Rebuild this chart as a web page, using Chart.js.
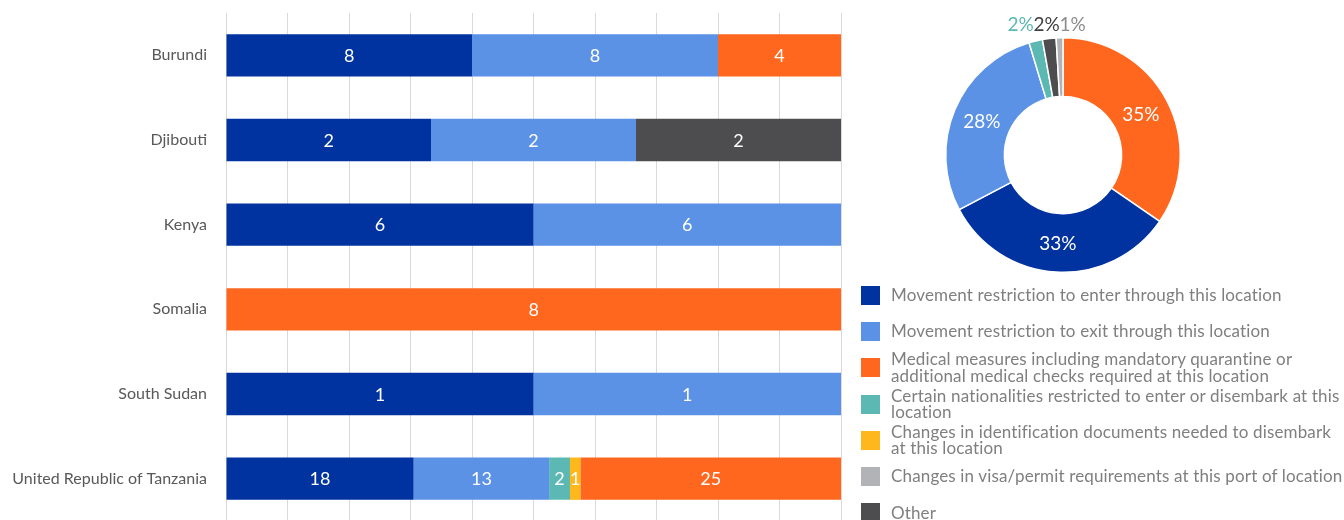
<!DOCTYPE html>
<html>
<head>
<meta charset="utf-8">
<script src="https://cdn.jsdelivr.net/npm/chart.js@4.4.1/dist/chart.umd.min.js"></script>
<style>
  html, body { margin: 0; padding: 0; width: 1344px; height: 520px; overflow: hidden; background: #fff; }
  #barBox { position: absolute; left: 0; top: 0; width: 850px; height: 530px; }
  #pieBox { position: absolute; left: 933px; top: 5px; width: 260px; height: 300px; }
  #legend { position: absolute; left: 861px; top: 277px; width: 483px; font-family: Lato, sans-serif; font-size: 17px; letter-spacing: 0.15px; color: #7f7f7f; }
  .item { display: flex; align-items: center; height: 36.3px; }
  .sw { width: 19px; height: 19px; flex: none; margin-right: 11px; }
  .tx { line-height: 16.5px; width: 455px; }
</style>
</head>
<body>
<div id="barBox"><canvas id="bars"></canvas></div>
<div id="pieBox"><canvas id="donut"></canvas></div>
<div id="legend"></div>
<script>
// Countries (rows of the stacked bar chart)
const countries = ['Burundi', 'Djibouti', 'Kenya', 'Somalia', 'South Sudan', 'United Republic of Tanzania'];

// Measure types, in legend order
const measures = [
  'Movement restriction to enter through this location',
  'Movement restriction to exit through this location',
  'Medical measures including mandatory quarantine or additional medical checks required at this location',
  'Certain nationalities restricted to enter or disembark at this location',
  'Changes in identification documents needed to disembark at this location',
  'Changes in visa/permit requirements at this port of location',
  'Other'
];
const measureColors = ['#0033A0', '#5B92E5', '#FF671F', '#5CB8B2', '#FFB81C', '#B1B3B6', '#4D4D4F'];
const labelColors   = ['#0033A0', '#5B92E5', '#FF671F', '#5CB8B2', '#FFB81C', '#8C8C8C', '#404040'];

// Number of points of entry reporting each measure, per country
const enterCounts       = [8, 2, 6, 0, 1, 18];
const exitCounts        = [8, 2, 6, 0, 1, 13];
const medicalCounts     = [4, 0, 0, 8, 0, 25];
const nationalityCounts = [0, 0, 0, 0, 0, 2];
const idDocCounts       = [0, 0, 0, 0, 0, 1];
const visaCounts        = [0, 0, 0, 0, 0, 0];
const otherCounts       = [0, 2, 0, 0, 0, 0];
const countSeries = [enterCounts, exitCounts, medicalCounts, nationalityCounts, idDocCounts, visaCounts, otherCounts];

// Order in which the segments are stacked from left to right
const stackOrder = [0, 1, 3, 4, 5, 2, 6];

// Overall share of measures (donut), clockwise from the top
const donutMeasures = [2, 0, 1, 3, 6, 5]; // indexes into measures
const donutValues   = [37, 35, 30, 2, 2, 1];

// Row totals, used to turn counts into 100% stacked bars
const rowTotals = countries.map((_, j) => countSeries.reduce((s, arr) => s + arr[j], 0));

// Legend
const legendEl = document.getElementById('legend');
measures.forEach((m, i) => {
  const it = document.createElement('div');
  it.className = 'item';
  it.innerHTML = '<div class="sw" style="background:' + measureColors[i] + '"></div><div class="tx"></div>';
  it.querySelector('.tx').textContent = m;
  legendEl.appendChild(it);
});

// Writes each segment's count in the middle of the segment
const barValueLabels = {
  id: 'barValueLabels',
  afterDatasetsDraw(chart) {
    const ctx = chart.ctx;
    ctx.save();
    ctx.font = '18px Lato';
    ctx.fillStyle = '#ffffff';
    ctx.textAlign = 'center';
    ctx.textBaseline = 'middle';
    chart.data.datasets.forEach((ds, i) => {
      const meta = chart.getDatasetMeta(i);
      meta.data.forEach((bar, j) => {
        const n = ds.counts[j];
        if (!n) return;
        const p = bar.getProps(['x', 'y', 'base'], true);
        ctx.fillText(String(n), (p.x + p.base) / 2, p.y + 1);
      });
    });
    ctx.restore();
  }
};

new Chart(document.getElementById('bars'), {
  type: 'bar',
  data: {
    labels: countries,
    datasets: stackOrder.map(i => ({
      label: measures[i],
      counts: countSeries[i],
      data: countSeries[i].map((v, j) => rowTotals[j] ? v / rowTotals[j] * 100 : 0),
      backgroundColor: measureColors[i],
      borderWidth: 0,
      barPercentage: 0.5,
      categoryPercentage: 1
    }))
  },
  options: {
    indexAxis: 'y',
    responsive: true,
    maintainAspectRatio: false,
    animation: false,
    layout: { padding: { left: 0, right: 9, top: 13, bottom: 9 } },
    plugins: { legend: { display: false }, tooltip: { enabled: false } },
    scales: {
      x: {
        stacked: true,
        min: 0,
        max: 100,
        ticks: { display: false, stepSize: 10 },
        grid: { color: '#d9d9d9', lineWidth: 1, drawTicks: false },
        border: { display: false }
      },
      y: {
        stacked: true,
        grid: { display: false, drawTicks: false },
        border: { display: false },
        ticks: { color: '#595959', font: { family: 'Lato', size: 16 }, padding: 19 },
        afterFit(scale) {
          scale.width = 226;
          scale.paddingTop = 0;
          scale.paddingBottom = 0;
        }
      }
    }
  },
  plugins: [barValueLabels]
});

// Percent labels: inside the ring for large slices, above it for small ones
const donutLabels = {
  id: 'donutLabels',
  afterDatasetsDraw(chart) {
    const ctx = chart.ctx;
    const meta = chart.getDatasetMeta(0);
    const ds = chart.data.datasets[0];
    const vals = ds.data;
    const total = vals.reduce((a, b) => a + b, 0);
    const outside = [];
    ctx.save();
    ctx.font = '19px Lato';
    ctx.textAlign = 'center';
    ctx.textBaseline = 'middle';
    meta.data.forEach((arc, i) => {
      const p = arc.getProps(['x', 'y', 'startAngle', 'endAngle', 'innerRadius', 'outerRadius'], true);
      const mid = (p.startAngle + p.endAngle) / 2;
      const share = vals[i] / total;
      const text = Math.round(share * 100) + '%';
      if (share > 0.05) {
        const r = (p.innerRadius + p.outerRadius) / 2;
        ctx.fillStyle = '#ffffff';
        ctx.fillText(text, p.x + r * Math.cos(mid), p.y + r * Math.sin(mid) + 1);
      } else {
        const r = p.outerRadius + 13;
        outside.push({ text, color: ds.labelColors[i], x: p.x + r * Math.cos(mid), y: p.y + r * Math.sin(mid) });
      }
    });
    // keep the small labels from overlapping
    outside.sort((a, b) => a.x - b.x);
    const gap = 26;
    if (outside.length > 1) {
      const mean = outside.reduce((s, o) => s + o.x, 0) / outside.length;
      outside.forEach((o, k) => { o.x = mean + (k - (outside.length - 1) / 2) * gap; });
      const ymin = Math.min(...outside.map(o => o.y));
      outside.forEach(o => { o.y = ymin; });
    }
    outside.forEach(o => { ctx.fillStyle = o.color; ctx.fillText(o.text, o.x, o.y); });
    ctx.restore();
  }
};

new Chart(document.getElementById('donut'), {
  type: 'doughnut',
  data: {
    labels: donutMeasures.map(i => measures[i]),
    datasets: [{
      data: donutValues,
      backgroundColor: donutMeasures.map(i => measureColors[i]),
      labelColors: donutMeasures.map(i => labelColors[i]),
      borderColor: '#ffffff',
      borderWidth: 1.5
    }]
  },
  options: {
    responsive: true,
    maintainAspectRatio: false,
    animation: false,
    cutout: '50%',
    layout: { padding: { left: 12, right: 12, top: 32, bottom: 32 } },
    plugins: { legend: { display: false }, tooltip: { enabled: false } }
  },
  plugins: [donutLabels]
});
</script>
</body>
</html>
